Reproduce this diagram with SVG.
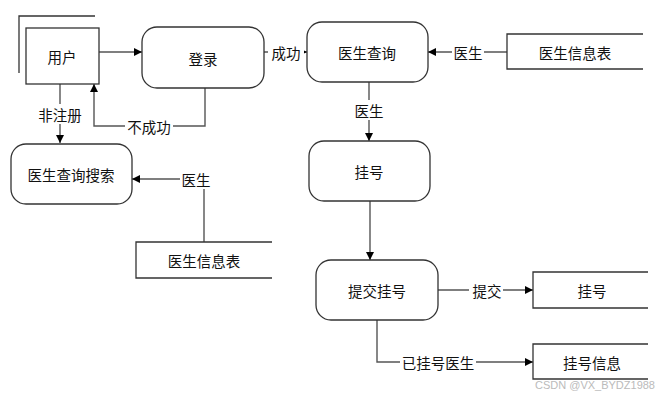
<svg xmlns="http://www.w3.org/2000/svg" width="670" height="400" viewBox="0 0 670 400">
<defs>
<style>
.box{fill:#fff;stroke:#333;stroke-width:1.3}
.st{fill:none;stroke:#333;stroke-width:1.3}
.ln{fill:none;stroke:#555;stroke-width:1.4}
.t{font-family:"Noto Sans CJK SC","Liberation Sans",sans-serif;font-size:14.5px;fill:#111;text-anchor:middle;dominant-baseline:central}
.bg{fill:#fff}
.wm{font-family:"Liberation Sans",sans-serif;font-size:11px;fill:#bbb}
</style>
<marker id="ar" viewBox="0 0 10 10" refX="10" refY="5" markerWidth="8" markerHeight="8" markerUnits="userSpaceOnUse" orient="auto">
<path d="M0,0 L10,5 L0,10 z" fill="#000"/>
</marker>
</defs>
<rect width="670" height="400" fill="#fff"/>
<g id="connectors">
<line class="ln" x1="99" y1="52" x2="142" y2="52" marker-end="url(#ar)"/>
<line class="ln" x1="264" y1="52" x2="307" y2="52" marker-end="url(#ar)"/>
<line class="ln" x1="507" y1="52" x2="428" y2="52" marker-end="url(#ar)"/>
<line class="ln" x1="369" y1="82" x2="369" y2="141" marker-end="url(#ar)"/>
<line class="ln" x1="370" y1="201" x2="370" y2="260" marker-end="url(#ar)"/>
<line class="ln" x1="438" y1="290" x2="533" y2="290" marker-end="url(#ar)"/>
<polyline class="ln" points="377,320 377,362 533,362" marker-end="url(#ar)"/>
<line class="ln" x1="60" y1="84" x2="60" y2="143" marker-end="url(#ar)"/>
<polyline class="ln" points="205,88 205,126 94,126 94,84" marker-end="url(#ar)"/>
<polyline class="ln" points="204,242 204,179 132,179" marker-end="url(#ar)"/>
<rect class="bg" x="268" y="42" width="36" height="20"/>
<text class="t" x="286" y="52">成功</text>
<rect class="bg" x="452" y="42" width="32" height="20"/>
<text class="t" x="468" y="52">医生</text>
<rect class="bg" x="353" y="100" width="32" height="20"/>
<text class="t" x="369" y="110">医生</text>
<rect class="bg" x="469" y="280" width="34" height="20"/>
<text class="t" x="487" y="290">提交</text>
<rect class="bg" x="400" y="352" width="76" height="20"/>
<text class="t" x="438" y="362">已挂号医生</text>
<rect class="bg" x="37" y="104" width="46" height="20"/>
<text class="t" x="60" y="114">非注册</text>
<rect class="bg" x="125" y="116" width="48" height="20"/>
<text class="t" x="149" y="126">不成功</text>
<rect class="bg" x="180" y="169" width="32" height="20"/>
<text class="t" x="196" y="179">医生</text>
</g>
<g id="user">
<rect class="box" x="26" y="28" width="73" height="56"/>
<polyline class="st" points="19,73 19,16 95,16"/>
<text class="t" x="62" y="56">用户</text>
</g>
<g id="login">
<rect class="box" x="142" y="27" width="122" height="61" rx="15"/>
<text class="t" x="203" y="58">登录</text>
</g>
<g id="doctor-query">
<rect class="box" x="307" y="22" width="121" height="60" rx="15"/>
<text class="t" x="367" y="52">医生查询</text>
</g>
<g id="doctor-table-1">
<polyline class="st" points="643,34 507,34 507,69 643,69"/>
<text class="t" x="575" y="52">医生信息表</text>
</g>
<g id="register">
<rect class="box" x="309" y="141" width="121" height="60" rx="15"/>
<text class="t" x="369" y="171">挂号</text>
</g>
<g id="submit-register">
<rect class="box" x="316" y="260" width="122" height="60" rx="15"/>
<text class="t" x="377" y="290">提交挂号</text>
</g>
<g id="register-store">
<polyline class="st" points="648,272 533,272 533,308 648,308"/>
<text class="t" x="592" y="290">挂号</text>
</g>
<g id="register-info-store">
<polyline class="st" points="648,344 533,344 533,379 648,379"/>
<text class="t" x="592" y="362">挂号信息</text>
</g>
<g id="doctor-search">
<rect class="box" x="11" y="144" width="121" height="60" rx="15"/>
<text class="t" x="71" y="174">医生查询搜索</text>
</g>
<g id="doctor-table-2">
<polyline class="st" points="272,242 136,242 136,278 272,278"/>
<text class="t" x="204" y="260">医生信息表</text>
</g>
<text class="wm" x="535" y="389">CSDN @VX_BYDZ1988</text>
</svg>
